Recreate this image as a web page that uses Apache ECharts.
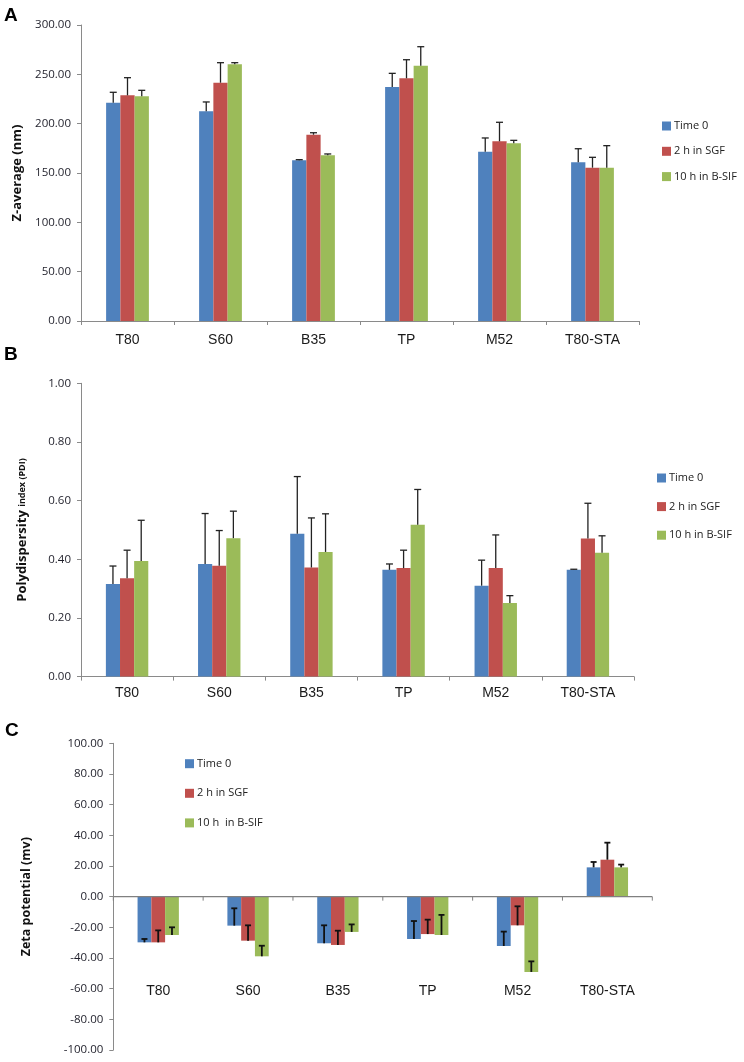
<!DOCTYPE html>
<html>
<head>
<meta charset="utf-8">
<script src="https://cdn.jsdelivr.net/npm/echarts@6/dist/echarts.min.js"></script>
<style>html,body{margin:0;padding:0;background:#fff;}#c{width:744px;height:1062px;}</style>
</head>
<body>
<div id="c"></div>
<script>
// ---- data ----
const categories = ['T80', 'S60', 'B35', 'TP', 'M52', 'T80-STA'];
const seriesNames = ['Time 0', '2 h in SGF', '10 h in B-SIF'];
const seriesNamesC = ['Time 0', '2 h in SGF', '10 h  in B-SIF'];

// Panel A: Z-average (nm), mean and + error
const zTime0 = [221.2, 212.5, 162.8, 237.2, 171.6, 160.8];
const zSGF = [228.7, 241.5, 188.8, 246.0, 182.1, 155.4];
const zBSIF = [227.7, 260.2, 167.9, 258.8, 180.1, 155.4];
const zTime0Err = [10.6, 9.5, 0.7, 13.8, 13.9, 13.8];
const zSGFErr = [17.9, 20.3, 2.0, 18.8, 19.3, 10.5];
const zBSIFErr = [6.1, 1.6, 1.4, 19.2, 3.0, 22.3];

// Panel B: PDI
const pTime0 = [0.316, 0.384, 0.487, 0.364, 0.310, 0.364];
const pSGF = [0.335, 0.378, 0.372, 0.370, 0.370, 0.471];
const pBSIF = [0.394, 0.472, 0.425, 0.518, 0.251, 0.422];
const pTime0Err = [0.061, 0.172, 0.195, 0.020, 0.087, 0.002];
const pSGFErr = [0.096, 0.120, 0.169, 0.061, 0.113, 0.120];
const pBSIFErr = [0.139, 0.092, 0.130, 0.120, 0.025, 0.058];

// Panel C: Zeta potential (mV)
const zetaTime0 = [-29.8, -18.9, -30.4, -27.6, -32.2, 19.1];
const zetaSGF = [-29.8, -28.7, -31.5, -24.4, -18.7, 24.1];
const zetaBSIF = [-25.0, -38.9, -23.0, -25.0, -49.1, 19.1];
const zetaTime0Err = [2.2, 11.3, 11.7, 11.7, 9.4, 3.5];
const zetaSGFErr = [7.8, 10.0, 9.3, 9.4, 12.4, 11.1];
const zetaBSIFErr = [5.0, 6.9, 4.9, 13.1, 6.9, 1.8];

// ---- styling ----
const colors = ['#4F81BD', '#C0504D', '#9BBB59'];
const axisGray = '#8a8a8a';
const BAR_FRAC = 0.1533;
const tickFont = {fontFamily: 'Open Sans', fontSize: 11.5, color: '#1f1f2a'};
const catFont = {fontFamily: 'Liberation Sans', fontSize: 14, color: '#1a1a1a'};

function errSeries(g, means, errs, offset, lw, color, capHalf) {
  return {
    type: 'custom', xAxisIndex: g, yAxisIndex: g, z: 5, silent: true,
    data: means.map((m, i) => [i, m, errs[i]]),
    renderItem: function (params, api) {
      const c = api.value(0), m = api.value(1), e = api.value(2);
      const bw = api.size([1, 0])[0] * BAR_FRAC;
      const p0 = api.coord([c, m]);
      const p1 = api.coord([c, m + e]);
      const x = p0[0] + offset * bw;
      const st = {stroke: color, lineWidth: lw};
      return {type: 'group', children: [
        {type: 'line', shape: {x1: x, y1: p0[1], x2: x, y2: p1[1]}, style: st},
        {type: 'line', shape: {x1: x - capHalf, y1: p1[1], x2: x + capHalf, y2: p1[1]}, style: st}
      ]};
    }
  };
}

// zero baseline with category-boundary ticks for panel C (positioned through the axis scale)
function zeroBaseline(g) {
  return {
    type: 'custom', xAxisIndex: g, yAxisIndex: g, z: 6, silent: true,
    data: [[0, 0]],
    renderItem: function (params, api) {
      const cs = params.coordSys;
      const y = api.coord([0, api.value(1)])[1];
      const n = categories.length;
      const st = {stroke: '#808080', lineWidth: 1.4};
      const children = [{type: 'line', shape: {x1: cs.x, y1: y, x2: cs.x + cs.width, y2: y}, style: st}];
      for (let k = 0; k <= n; k++) {
        const x = cs.x + k * cs.width / n;
        children.push({type: 'line', shape: {x1: x, y1: y, x2: x, y2: y + 4}, style: {stroke: '#808080', lineWidth: 1}});
      }
      return {type: 'group', children: children};
    }
  };
}

function barSeries(name, g, data, ci) {
  return {
    name: name, type: 'bar', xAxisIndex: g, yAxisIndex: g,
    data: data, barGap: '0%', barCategoryGap: '54%',
    itemStyle: {color: colors[ci]}, silent: true
  };
}

function xAxisDef(g, margin) {
  return {
    type: 'category', gridIndex: g, data: categories,
    axisLine: {show: true, onZero: false, lineStyle: {color: axisGray, width: 1}},
    axisTick: {show: true, alignWithLabel: false, length: 4, lineStyle: {color: axisGray}},
    axisLabel: Object.assign({margin: margin, interval: 0}, catFont),
    splitLine: {show: false}
  };
}

function yAxisDef(g, min, max, interval, name, nameGap, nameStyle) {
  return {
    type: 'value', gridIndex: g, min: min, max: max, interval: interval,
    name: name, nameLocation: 'middle', nameGap: nameGap, nameRotate: 90,
    nameTextStyle: nameStyle,
    axisLine: {show: true, lineStyle: {color: axisGray, width: 1}},
    axisTick: {show: true, length: 4, lineStyle: {color: axisGray}},
    axisLabel: Object.assign({margin: 10, formatter: v => v.toFixed(2)}, tickFont),
    splitLine: {show: false}
  };
}

function legendDef(names, left, top, gap) {
  return {
    data: names, orient: 'vertical', left: left, top: top,
    itemWidth: 9, itemHeight: 9, itemGap: gap, icon: 'rect',
    selectedMode: false,
    textStyle: {fontFamily: 'Open Sans', fontSize: 11, color: '#222', lineHeight: 12, padding: [0, 0, 0, -2]}
  };
}

const nameBold = {fontFamily: 'Open Sans', fontWeight: 'bold', fontSize: 13, color: '#111'};

// C panel: category labels on a bottom axis, shifted up into the lower part of the grid
const xLabelC = {
  type: 'category', gridIndex: 2, data: categories, position: 'bottom',
  axisLine: {show: false, onZero: false},
  axisTick: {show: false},
  axisLabel: Object.assign({margin: -66, interval: 0}, catFont),
  splitLine: {show: false}
};

const option = {
  animation: false,
  backgroundColor: '#fff',
  grid: [
    {left: 81, top: 25, width: 558, height: 296, outerBoundsMode: 'none'},
    {left: 81, top: 383.3, width: 553, height: 293.3, outerBoundsMode: 'none'},
    {left: 113.3, top: 743.3, width: 539, height: 306.7, outerBoundsMode: 'none'}
  ],
  legend: [
    legendDef(seriesNames.map(n => ({name: n})), 657, 115, 13.3),
    legendDef(seriesNames.map(n => ({name: n})), 652, 467, 16.6),
    legendDef(seriesNamesC.map(n => ({name: n})), 180, 752.7, 17.6)
  ],
  xAxis: [xAxisDef(0, 12), xAxisDef(1, 10), xLabelC],
  yAxis: [
    yAxisDef(0, 0, 300, 50, 'Z-average (nm)', 56, nameBold),
    yAxisDef(1, 0, 1, 0.2, '{a|Polydispersity }{b|index (PDI)}', 52,
      {rich: {a: {fontFamily: 'Open Sans', fontWeight: 'bold', fontSize: 13, color: '#111'},
              b: {fontFamily: 'Open Sans', fontWeight: 'bold', fontSize: 9, color: '#111'}}}),
    yAxisDef(2, -100, 100, 20, 'Zeta potential (mv)', 80, Object.assign({}, nameBold, {fontSize: 12.5}))
  ],
  graphic: [
    {type: 'text', left: 4, top: 6, style: {text: 'A', font: 'bold 19px "Liberation Sans"', fill: '#000'}},
    {type: 'text', left: 4, top: 345, style: {text: 'B', font: 'bold 19px "Liberation Sans"', fill: '#000'}},
    {type: 'text', left: 5, top: 721, style: {text: 'C', font: 'bold 19px "Liberation Sans"', fill: '#000'}}
  ],
  series: [
    barSeries(seriesNames[0], 0, zTime0, 0),
    barSeries(seriesNames[1], 0, zSGF, 1),
    barSeries(seriesNames[2], 0, zBSIF, 2),
    errSeries(0, zTime0, zTime0Err, -1, 1.3, '#222', 3.5),
    errSeries(0, zSGF, zSGFErr, 0, 1.3, '#222', 3.5),
    errSeries(0, zBSIF, zBSIFErr, 1, 1.3, '#222', 3.5),

    barSeries(seriesNames[0], 1, pTime0, 0),
    barSeries(seriesNames[1], 1, pSGF, 1),
    barSeries(seriesNames[2], 1, pBSIF, 2),
    errSeries(1, pTime0, pTime0Err, -1, 1.3, '#222', 3.5),
    errSeries(1, pSGF, pSGFErr, 0, 1.3, '#222', 3.5),
    errSeries(1, pBSIF, pBSIFErr, 1, 1.3, '#222', 3.5),

    barSeries(seriesNamesC[0], 2, zetaTime0, 0),
    barSeries(seriesNamesC[1], 2, zetaSGF, 1),
    barSeries(seriesNamesC[2], 2, zetaBSIF, 2),
    zeroBaseline(2),
    errSeries(2, zetaTime0, zetaTime0Err, -1, 1.8, '#111', 3),
    errSeries(2, zetaSGF, zetaSGFErr, 0, 1.8, '#111', 3),
    errSeries(2, zetaBSIF, zetaBSIFErr, 1, 1.8, '#111', 3)
  ]
};

const chart = echarts.init(document.getElementById('c'), null, {renderer: 'canvas'});
chart.setOption(option);
</script>
</body>
</html>
